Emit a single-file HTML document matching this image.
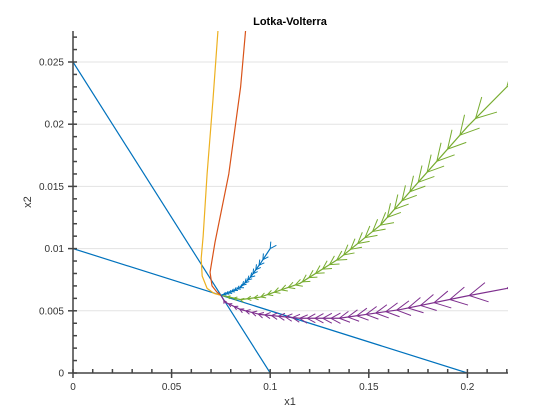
<!DOCTYPE html>
<html><head><meta charset="utf-8"><style>
body{margin:0;background:#fff;}
svg{display:block;font-family:"Liberation Sans",sans-serif;}
</style></head><body>
<svg id="c" width="560" height="420"></svg>
<script>
const xTicks=[0,0.05,0.1,0.15,0.2];
const xTickLabels=["0","0.05","0.1","0.15","0.2"];
const yTicks=[0,0.005,0.01,0.015,0.02,0.025];
const yTickLabels=["0","0.005","0.01","0.015","0.02","0.025"];
const nullclineA=[[0,0.025],[0.1,0]];
const nullclineB=[[0,0.01],[0.2,0]];
const orangeX=[0.0735,0.071,0.068,0.066,0.065,0.0655,0.068,0.0715,0.075];
const orangeY=[0.0275,0.022,0.016,0.011,0.0092,0.0078,0.0068,0.0064,0.00625];
const redX=[0.0875,0.085,0.079,0.072,0.0695,0.0705,0.073,0.075];
const redY=[0.0275,0.023,0.016,0.0105,0.0081,0.007,0.0065,0.00625];
const blueX=[0.1,0.095,0.09,0.085,0.08,0.075];
const blueY=[0.01,0.0088,0.0077,0.0069,0.0065,0.00625];
const greenX=[0.22,0.2,0.176,0.156,0.135,0.115,0.095,0.085,0.075];
const greenY=[0.023,0.0198,0.0155,0.0119,0.0092,0.0072,0.0061,0.0059,0.00625];
const purpleX=[0.22,0.2,0.166,0.135,0.115,0.095,0.085,0.077,0.075];
const purpleY=[0.0068,0.0062,0.0051,0.0044,0.0044,0.0047,0.0051,0.0057,0.00625];

const L=73,R=508,T=31,B=373;
const sx=v=>L+v*1972;
const sy=v=>B-v*12440;
const svg=document.getElementById('c');
const NS='http://www.w3.org/2000/svg';
function mk(tag,attrs,parent){const e=document.createElementNS(NS,tag);for(const k in attrs)e.setAttribute(k,attrs[k]);(parent||svg).appendChild(e);return e;}
const clip=mk('clipPath',{id:'pc'});mk('rect',{x:L,y:T,width:R-L,height:B-T},clip);
yTicks.forEach((t,i)=>{if(i==0)return;const g=mk('line',{x1:L,x2:R,y1:sy(t),y2:sy(t),stroke:'#e3e3e3','stroke-width':1});
});
const plot=mk('g',{'clip-path':'url(#pc)'});

function poly(xs,ys,color,name){const p=mk('polyline',{points:xs.map((x,i)=>sx(x)+','+sy(ys[i])).join(' '),fill:'none',stroke:color,'stroke-width':1.2,'stroke-linejoin':'round'},plot);
return p;}
poly(nullclineA.map(p=>p[0]),nullclineA.map(p=>p[1]),'#0072bd','nullcline-1');
poly(nullclineB.map(p=>p[0]),nullclineB.map(p=>p[1]),'#0072bd','nullcline-2');
poly(orangeX,orangeY,'#edb120','trajectory-orange');
poly(redX,redY,'#d95319','trajectory-red');
function arrows(xs,ys,color,name,n,maxLen){
  poly(xs,ys,color,'trajectory-'+name);
  const pts=xs.map((x,i)=>[sx(x),sy(ys[i])]);
  const seg=[0];for(let i=1;i<pts.length;i++)seg.push(seg[i-1]+Math.hypot(pts[i][0]-pts[i-1][0],pts[i][1]-pts[i-1][1]));
  const tot=seg[seg.length-1];
  for(let k=0;k<n;k++){
    const f=Math.pow(k/n,0.6);const s=f*tot;
    let i=1;while(i<seg.length-1&&seg[i]<s)i++;
    const a=pts[i-1],b=pts[i],u=(s-seg[i-1])/((seg[i]-seg[i-1])||1);
    const px=a[0]+(b[0]-a[0])*u,py=a[1]+(b[1]-a[1])*u;
    const ang=Math.atan2(a[1]-b[1],a[0]-b[0]);
    const len=3+maxLen*(1-f);
    let d='';
    [0.5,-0.5].forEach(o=>{d+='M'+px+','+py+'L'+(px+len*Math.cos(ang+o))+','+(py+len*Math.sin(ang+o));});
    const ar=mk('path',{d:d,stroke:color,'stroke-width':1,fill:'none'},plot);
    
  }
}
arrows(greenX,greenY,'#77ac30','green',34,22);
arrows(purpleX,purpleY,'#7e2f8e','purple',30,20);
arrows(blueX,blueY,'#0072bd','blue',16,4);
const ax=mk('g',{stroke:'#444','stroke-width':1.5});

mk('line',{x1:L,x2:R,y1:B,y2:B},ax);mk('line',{x1:L,x2:L,y1:T,y2:B},ax);
for(let v=0;v<=0.2201;v+=0.01){const x=sx(v);const major=Math.abs(v/0.05-Math.round(v/0.05))<1e-6;
 mk('line',{x1:x,x2:x,y1:major?B+5:B,y2:B-4},ax);}
for(let v=0;v<=0.0275;v+=0.001){const y=sy(v);const major=Math.abs(v/0.005-Math.round(v/0.005))<1e-6;
 mk('line',{x1:major?L-5:L,x2:L+4,y1:y,y2:y},ax);}
xTicks.forEach((t,i)=>{const e=mk('text',{x:sx(t),y:B+17,'text-anchor':'middle','font-size':10,fill:'#333'});e.textContent=xTickLabels[i];
});
yTicks.forEach((t,i)=>{const e=mk('text',{x:L-9,y:sy(t)+3.5,'text-anchor':'end','font-size':10,fill:'#333'});e.textContent=yTickLabels[i];
});
const tt=mk('text',{x:290,y:25,'text-anchor':'middle','font-size':11,'font-weight':'bold',fill:'#000'});tt.textContent='Lotka-Volterra';

const xl=mk('text',{x:290,y:405,'text-anchor':'middle','font-size':11,fill:'#333'});xl.textContent='x1';

const yl=mk('text',{x:0,y:0,'text-anchor':'middle','font-size':11,fill:'#333',transform:'translate(31,202) rotate(-90)'});yl.textContent='x2';

</script>
</body></html>
